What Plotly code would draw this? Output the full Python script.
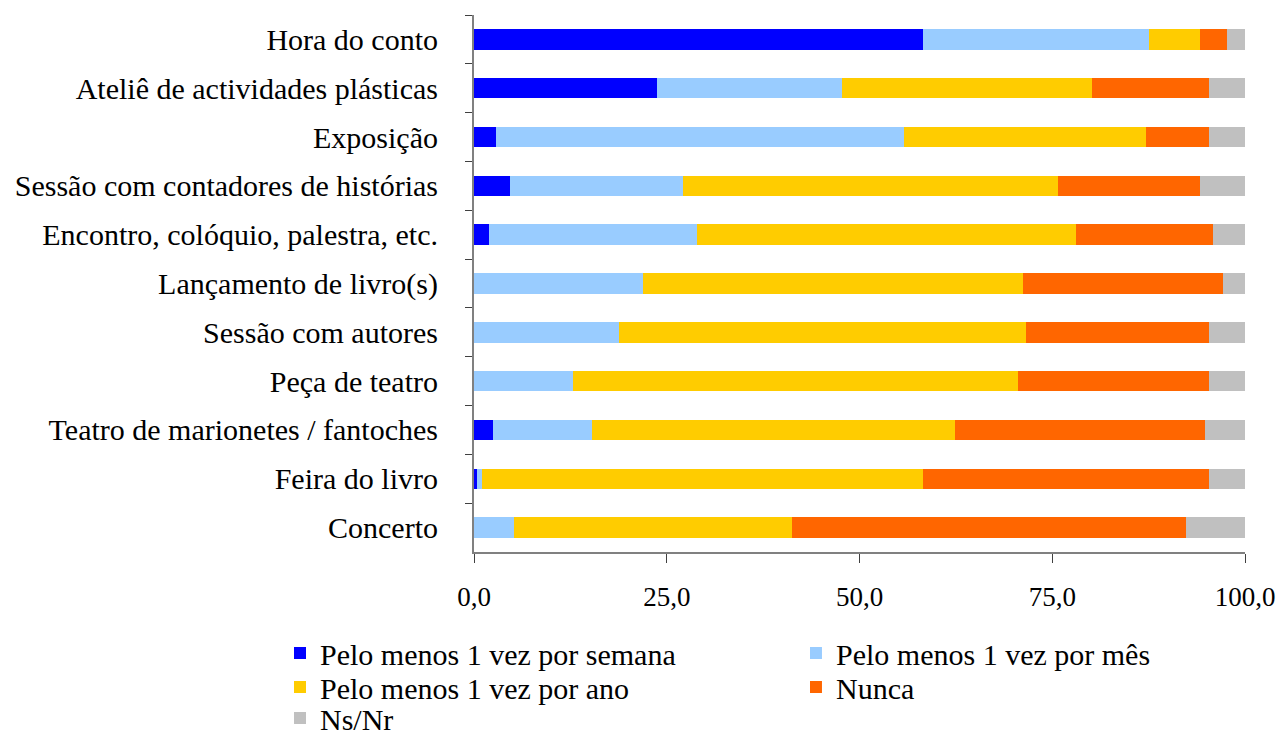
import plotly.graph_objects as go

# -------------------------------------------------
# Data (percentages)
# -------------------------------------------------
categories = [
    "Hora do conto",
    "Ateliê de actividades plásticas",
    "Exposição",
    "Sessão com contadores de histórias",
    "Encontro, colóquio, palestra, etc.",
    "Lançamento de livro(s)",
    "Sessão com autores",
    "Peça de teatro",
    "Teatro de marionetes / fantoches",
    "Feira do livro",
    "Concerto",
]

semana = [58.2, 23.7, 2.9, 4.7, 1.9, 0.0, 0.0, 0.0, 2.4, 0.4, 0.0]
mes = [29.3, 24.0, 52.9, 22.4, 27.0, 21.9, 18.8, 12.9, 12.9, 0.7, 5.2]
ano = [6.7, 32.4, 31.3, 48.7, 49.2, 49.3, 52.8, 57.7, 47.1, 57.1, 36.0]
nunca = [3.4, 15.2, 8.2, 18.4, 17.7, 25.9, 23.7, 24.7, 32.4, 37.1, 51.2]
nsnr = [2.4, 4.7, 4.7, 5.8, 4.2, 2.9, 4.7, 4.7, 5.2, 4.7, 7.6]

x_ticks = [0, 25, 50, 75, 100]

series = [
    ("Pelo menos 1 vez por semana", semana, "#0000FF"),
    ("Pelo menos 1 vez por mês", mes, "#99CCFF"),
    ("Pelo menos 1 vez por ano", ano, "#FFCC00"),
    ("Nunca", nunca, "#FF6600"),
    ("Ns/Nr", nsnr, "#C0C0C0"),
]

FONT = "Liberation Serif, Times New Roman, serif"

# one legend per entry so the 2-column grid can be placed like the original
legend_ids = ["legend", "legend2", "legend3", "legend4", "legend5"]
legend_pos = [
    (-0.2516, -0.1881),
    (0.4176, -0.1881),
    (-0.2516, -0.2514),
    (0.4176, -0.2514),
    (-0.2516, -0.3091),
]

fig = go.Figure()

for (name, values, color), lid in zip(series, legend_ids):
    fig.add_trace(
        go.Bar(
            y=categories,
            x=values,
            name=name,
            orientation="h",
            marker=dict(color=color, line_width=0),
            width=0.42,
            legend=lid,
        )
    )

layout_legends = {}
for lid, (lx, ly) in zip(legend_ids, legend_pos):
    layout_legends[lid] = dict(
        x=lx,
        y=ly,
        xanchor="left",
        yanchor="middle",
        bgcolor="rgba(0,0,0,0)",
        font=dict(family=FONT, size=30, color="black"),
    )

fig.update_layout(
    barmode="stack",
    width=1280,
    height=737,
    margin=dict(l=474, r=35, t=15, b=185, autoexpand=False),
    paper_bgcolor="white",
    plot_bgcolor="white",
    separators=",.",
    font=dict(family=FONT, size=30, color="black"),
    showlegend=True,
    **layout_legends,
)

fig.update_xaxes(
    range=[0, 100],
    tickvals=x_ticks,
    tickformat=".1f",
    ticks="outside",
    ticklen=9,
    tickcolor="#404040",
    tickfont=dict(size=27),
    ticklabelstandoff=11,
    ticklabeloverflow="allow",
    showline=True,
    linecolor="#808080",
    linewidth=2,
    showgrid=False,
    zeroline=False,
)

fig.update_yaxes(
    autorange="reversed",
    ticks="outside",
    tickson="boundaries",
    ticklen=7,
    tickcolor="#404040",
    ticklabelstandoff=28,
    showline=True,
    linecolor="#808080",
    linewidth=2,
    showgrid=False,
)

# the page's default body margin would push the figure off the window edges
fig.write_html(
    "out.html",
    config={"displayModeBar": False},
    post_script="document.body.style.margin = '0';",
)
